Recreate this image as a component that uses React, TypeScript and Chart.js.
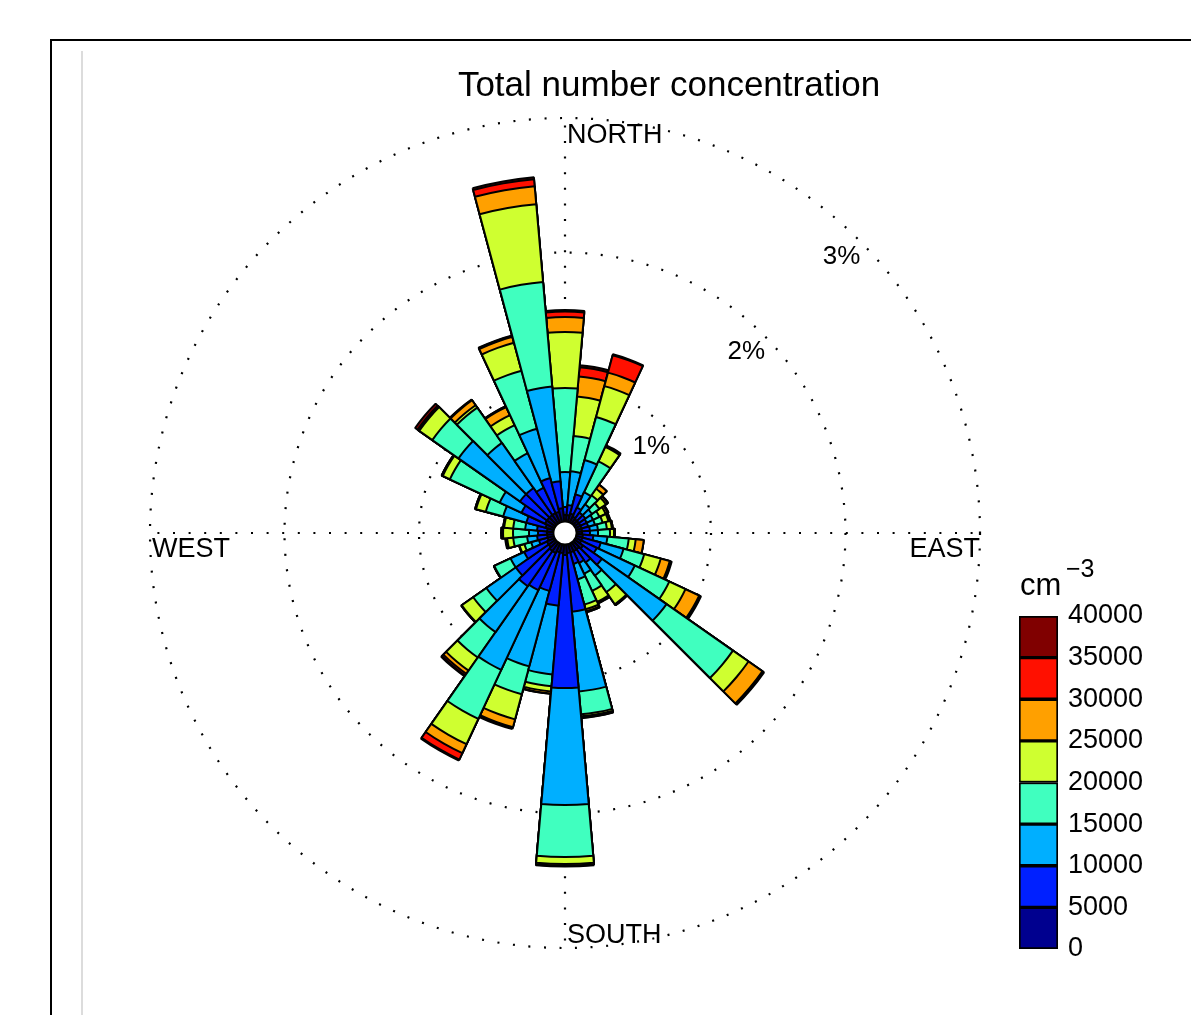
import React, { useEffect, useRef } from 'react';
import Chart from 'chart.js/auto';

// Wind direction sectors (degrees clockwise from north), 10° wide
const directions = [
  '0', '10', '20', '30', '40', '50', '60', '70', '80',
  '90', '100', '110', '120', '130', '140', '150', '160', '170',
  '180', '190', '200', '210', '220', '230', '240', '250', '260',
  '270', '280', '290', '300', '310', '320', '330', '340', '350',
];

// Frequency (%) in each concentration class, per sector
const bin0to5k = [
  0.048, 0.048, 0.063, 0.048, 0.041, 0.041, 0.041, 0.041, 0.041,
  0.041, 0.048, 0.048, 0.048, 0.078, 0.063, 0.063, 0.063, 0.063,
  0.078, 0.063, 0.063, 0.078, 0.078, 0.063, 0.063, 0.048, 0.048,
  0.048, 0.048, 0.063, 0.078, 0.078, 0.078, 0.078, 0.078, 0.100,
];
const bin5to10k = [
  0.060, 0.075, 0.149, 0.075, 0.059, 0.059, 0.052, 0.052, 0.059,
  0.059, 0.078, 0.142, 0.127, 0.171, 0.119, 0.097, 0.089, 0.439,
  0.989, 0.394, 0.298, 0.305, 0.320, 0.298, 0.186, 0.067, 0.075,
  0.067, 0.075, 0.149, 0.193, 0.245, 0.245, 0.208, 0.260, 0.201,
];
const bin10to15k = [
  0.260, 0.252, 0.264, 0.126, 0.075, 0.060, 0.052, 0.052, 0.060,
  0.060, 0.105, 0.175, 0.312, 0.587, 0.119, 0.089, 0.119, 0.595,
  0.870, 0.513, 0.580, 0.654, 0.416, 0.267, 0.112, 0.060, 0.074,
  0.067, 0.089, 0.178, 0.179, 0.558, 0.409, 0.283, 0.379, 0.706,
];
const bin15to20k = [
  0.625, 0.264, 0.331, 0.253, 0.082, 0.067, 0.052, 0.059, 0.067,
  0.089, 0.159, 0.159, 0.283, 0.603, 0.149, 0.141, 0.194, 0.171,
  0.386, 0.089, 0.215, 0.402, 0.231, 0.119, 0.133, 0.052, 0.104,
  0.119, 0.089, 0.134, 0.409, 0.238, 0.320, 0.230, 0.447, 0.781,
];
const bin20to25k = [
  0.416, 0.294, 0.238, 0.119, 0.059, 0.059, 0.052, 0.045, 0.037,
  0.030, 0.052, 0.127, 0.133, 0.141, 0.111, 0.090, 0.037, 0.015,
  0.052, 0.038, 0.193, 0.208, 0.119, 0.104, 0.004, 0.037, 0.045,
  0.074, 0.067, 0.075, 0.059, 0.119, 0.022, 0.082, 0.215, 0.580,
];
const bin25to30k = [
  0.111, 0.149, 0.104, 0.004, 0.037, 0.015, 0.015, 0.011, 0.007,
  0.007, 0.060, 0.070, 0.112, 0.126, 0.008, 0.007, 0.015, 0.007,
  0.012, 0.015, 0.060, 0.074, 0.029, 0.004, 0.000, 0.004, 0.007,
  0.008, 0.007, 0.007, 0.008, 0.007, 0.045, 0.067, 0.045, 0.134,
];
const bin30to35k = [
  0.041, 0.070, 0.134, 0.003, 0.000, 0.004, 0.007, 0.004, 0.000,
  0.000, 0.000, 0.005, 0.007, 0.008, 0.000, 0.004, 0.007, 0.004,
  0.003, 0.003, 0.007, 0.052, 0.015, 0.000, 0.000, 0.000, 0.004,
  0.004, 0.000, 0.000, 0.000, 0.008, 0.004, 0.007, 0.007, 0.052,
];
const bin35to40k = [
  0.011, 0.015, 0.007, 0.008, 0.000, 0.000, 0.000, 0.000, 0.000,
  0.000, 0.000, 0.010, 0.008, 0.007, 0.000, 0.003, 0.000, 0.003,
  0.004, 0.000, 0.008, 0.008, 0.008, 0.000, 0.000, 0.000, 0.004,
  0.003, 0.000, 0.000, 0.000, 0.022, 0.003, 0.000, 0.004, 0.015,
];

const bins = [bin0to5k, bin5to10k, bin10to15k, bin15to20k, bin20to25k, bin25to30k, bin30to35k, bin35to40k];
const binLabels = ['0–5000', '5000–10000', '10000–15000', '15000–20000', '20000–25000', '25000–30000', '30000–35000', '35000–40000'];
const binColors = ['#00008F', '#0020FF', '#00AFFF', '#40FFBF', '#CFFF30', '#FFA000', '#FF1000', '#800000'];
const colorbarTicks = [0, 5000, 10000, 15000, 20000, 25000, 30000, 35000, 40000];
const ringValues = [1, 2, 3];
const ringLabels = ['1%', '2%', '3%'];
const compassLabels = ['NORTH', 'EAST', 'SOUTH', 'WEST'];
const titleText = 'Total number concentration';

const FONT = '"Liberation Sans", Arial, Helvetica, sans-serif';
const DOT = [2, 13.6];

const rosePlugin = {
  id: 'rose',
  beforeDraw(chart: any) {
    const { ctx } = chart;
    ctx.save();
    ctx.fillStyle = '#fff';
    ctx.fillRect(0, 0, chart.width, chart.height);
    ctx.strokeStyle = '#dcdcdc';
    ctx.lineWidth = 2;
    ctx.beginPath();
    ctx.moveTo(82, 51);
    ctx.lineTo(82, chart.height);
    ctx.stroke();
    ctx.strokeStyle = '#000';
    ctx.lineWidth = 2;
    ctx.strokeRect(51, 40, chart.width + 100, chart.height + 100);
    ctx.restore();
  },
  beforeDatasetsDraw(chart: any) {
    const { ctx } = chart;
    const s = chart.scales.r;
    const R = s.getDistanceFromCenterForValue(ringValues[ringValues.length - 1]);
    ctx.save();
    ctx.strokeStyle = '#000';
    ctx.lineWidth = 2.2;
    ctx.setLineDash(DOT);
    const dirs = [[0, -1], [1, 0], [0, 1], [-1, 0]];
    dirs.forEach(([dx, dy]) => {
      ctx.beginPath();
      ctx.moveTo(s.xCenter, s.yCenter);
      ctx.lineTo(s.xCenter + dx * R, s.yCenter + dy * R);
      ctx.stroke();
    });
    ctx.restore();
  },
  afterDatasetsDraw(chart: any) {
    const { ctx } = chart;
    const s = chart.scales.r;
    const cx = s.xCenter;
    const cy = s.yCenter;
    const r0 = s.getDistanceFromCenterForValue(0);
    const R = s.getDistanceFromCenterForValue(ringValues[ringValues.length - 1]);
    ctx.save();
    // center hole
    ctx.beginPath();
    ctx.arc(cx, cy, r0, 0, Math.PI * 2);
    ctx.fillStyle = '#fff';
    ctx.fill();
    ctx.lineWidth = 1.8;
    ctx.strokeStyle = '#000';
    ctx.stroke();

    ctx.fillStyle = '#000';
    ctx.font = `27px ${FONT}`;
    ctx.textBaseline = 'alphabetic';
    ctx.textAlign = 'left';
    ctx.fillText(compassLabels[0], cx + 2, cy - R + 25);
    ctx.fillText(compassLabels[2], cx + 2, cy + R - 5);
    ctx.fillText(compassLabels[3], cx - R + 2, cy + 24);
    ctx.textAlign = 'right';
    ctx.fillText(compassLabels[1], cx + R, cy + 24);

    // ring labels along 45°
    ctx.font = `26px ${FONT}`;
    ctx.textAlign = 'center';
    ctx.textBaseline = 'middle';
    ringValues.forEach((v, i) => {
      const d = s.getDistanceFromCenterForValue(v) - 24;
      ctx.fillText(ringLabels[i], cx + d * Math.SQRT1_2, cy - d * Math.SQRT1_2);
    });

    // title
    ctx.font = `35px ${FONT}`;
    ctx.textAlign = 'center';
    ctx.textBaseline = 'alphabetic';
    ctx.fillText(titleText, 669, 96);
    ctx.restore();
  },
};

const unitPlugin = {
  id: 'unit',
  afterDraw(chart: any) {
    const { ctx, chartArea } = chart;
    ctx.save();
    ctx.fillStyle = '#000';
    ctx.textAlign = 'left';
    ctx.textBaseline = 'alphabetic';
    ctx.font = `31px ${FONT}`;
    ctx.fillText('cm', chartArea.left + 1, chartArea.top - 21);
    ctx.font = `25px ${FONT}`;
    ctx.fillText('−3', chartArea.left + 47, chartArea.top - 39);
    ctx.restore();
  },
};

export default function App() {
  const roseRef = useRef<HTMLCanvasElement>(null);
  const barRef = useRef<HTMLCanvasElement>(null);

  useEffect(() => {
    const cumulative = (k: number) =>
      directions.map((_, i) => bins.slice(0, k + 1).reduce((sum, b) => sum + b[i], 0));

    const rose = new Chart(roseRef.current as HTMLCanvasElement, {
      type: 'polarArea',
      data: {
        labels: directions,
        datasets: bins.map((_, k) => ({
          label: binLabels[k],
          data: cumulative(k),
          backgroundColor: binColors[k],
          borderColor: '#000',
          borderWidth: 2,
        })),
      },
      options: {
        responsive: false,
        animation: false,
        devicePixelRatio: 1,
        layout: { padding: { left: 150, top: 118, right: 211, bottom: 67 } },
        plugins: {
          legend: { display: false },
          tooltip: { enabled: false },
          title: { display: false },
        },
        scales: {
          r: {
            min: -0.0855,
            max: 3,
            startAngle: -5,
            ticks: { display: false },
            afterBuildTicks: (sc: any) => {
              sc.ticks = ringValues.map((v) => ({ value: v }));
            },
            grid: { circular: true, color: '#000', lineWidth: 2.2 },
            border: { dash: DOT },
            angleLines: { display: false },
            pointLabels: { display: false },
          },
        },
      } as any,
      plugins: [rosePlugin],
    });

    const bar = new Chart(barRef.current as HTMLCanvasElement, {
      type: 'bar',
      data: {
        labels: [''],
        datasets: binColors.map((c, k) => ({
          label: binLabels[k],
          data: [colorbarTicks[k + 1] - colorbarTicks[k]],
          backgroundColor: c,
          borderColor: '#000',
          borderWidth: 2,
          borderSkipped: false,
          barPercentage: 1,
          categoryPercentage: 1,
        })),
      },
      options: {
        responsive: false,
        animation: false,
        devicePixelRatio: 1,
        layout: { padding: { left: 19, top: 76, right: 0, bottom: 31 } },
        plugins: { legend: { display: false }, tooltip: { enabled: false } },
        scales: {
          x: { display: false, stacked: true },
          y: {
            stacked: true,
            position: 'right',
            min: colorbarTicks[0],
            max: colorbarTicks[colorbarTicks.length - 1],
            afterBuildTicks: (sc: any) => {
              sc.ticks = colorbarTicks.map((v) => ({ value: v }));
            },
            afterFit: (sc: any) => {
              sc.width = 133;
            },
            ticks: {
              color: '#000',
              padding: 10,
              font: { size: 27, family: FONT },
              callback: (v: any) => String(v),
            },
            grid: { display: false, drawTicks: false },
            border: { display: false },
          },
        },
      } as any,
      plugins: [unitPlugin],
    });

    return () => {
      rose.destroy();
      bar.destroy();
    };
  }, []);

  return (
    <div>
      <canvas
        ref={roseRef}
        width={1191}
        height={1015}
        style={{ position: 'absolute', left: 0, top: 0, width: 1191, height: 1015 }}
      />
      <canvas
        ref={barRef}
        width={191}
        height={440}
        style={{ position: 'absolute', left: 1000, top: 540, width: 191, height: 440 }}
      />
    </div>
  );
}
